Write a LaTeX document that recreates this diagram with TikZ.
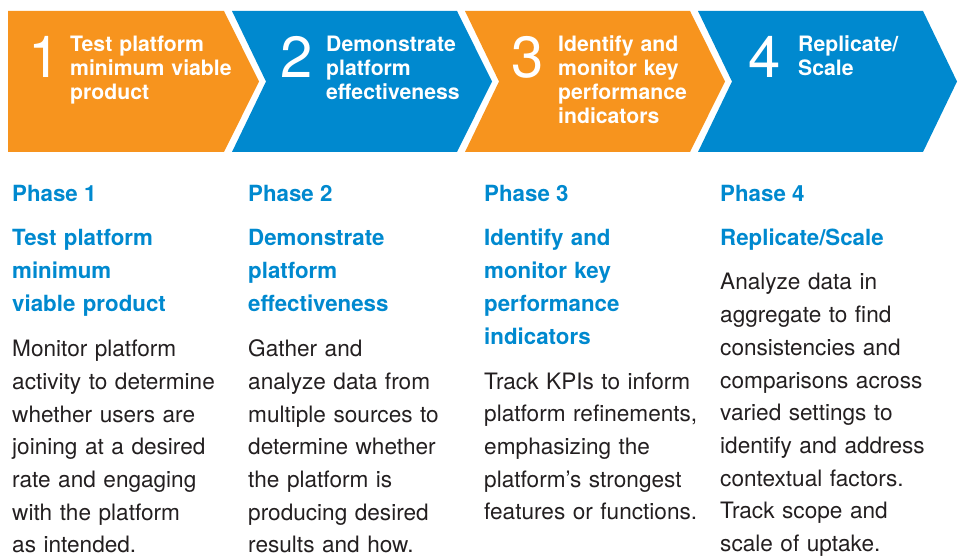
\documentclass[tikz,border=0pt]{standalone}
\usepackage{fontspec}
\setmainfont{TeX Gyre Heros}
\definecolor{phaseorange}{HTML}{F7941E}
\definecolor{phaseblue}{HTML}{0089CF}
\definecolor{bodytext}{HTML}{231F20}
\tikzset{
  chev/.style={fill=#1, draw=none},
  bignum/.style={anchor=base west, inner sep=0pt, text=white,
    font=\fontsize{58}{58}\selectfont},
  chevtitle/.style={anchor=base west, inner sep=0pt, text=white, align=left,
    text width=170pt, font=\fontsize{21.2}{24}\selectfont\bfseries},
  phaselabel/.style={anchor=base west, inner sep=0pt, text=phaseblue,
    font=\fontsize{22.3}{33}\selectfont\bfseries},
  phasehead/.style={anchor=base west, inner sep=0pt, text=phaseblue, align=left,
    text width=225pt, font=\fontsize{22.3}{33}\selectfont\bfseries},
  phasebody/.style={anchor=base west, inner sep=0pt, text=bodytext, align=left,
    text width=235pt, font=\fontsize{22.6}{32.7}\selectfont},
}
\begin{document}
\begin{tikzpicture}[x=1pt, y=-1pt]
  \useasboundingbox (0,0) rectangle (962,556);

  % chevron band
  \path[chev=phaseorange] (8,11) -- (224,11) -- (259,81.5) -- (224,152) -- (8,152) -- cycle;
  \path[chev=phaseblue] (232,11) -- (457,11) -- (492,81.5) -- (457,152) -- (232,152) -- (266,81.5) -- cycle;
  \path[chev=phaseorange] (465,11) -- (690,11) -- (725,81.5) -- (690,152) -- (465,152) -- (499,81.5) -- cycle;
  \path[chev=phaseblue] (698,11) -- (923,11) -- (957,81.5) -- (923,152) -- (698,152) -- (732,81.5) -- cycle;

  % step numbers and titles inside the chevrons
  \node[bignum] (n1) at (28,78) {1};
  \node[chevtitle] (t1) at (70,52) {Test platform\\minimum viable\\product};
  \node[bignum] (n2) at (280,78) {2};
  \node[chevtitle] (t2) at (326,52) {Demonstrate\\platform\\effectiveness};
  \node[bignum] (n3) at (511,78) {3};
  \node[chevtitle] (t3) at (558,52) {Identify and\\monitor key\\performance\\indicators};
  \node[bignum] (n4) at (748,78) {4};
  \node[chevtitle] (t4) at (798,52) {Replicate/\\Scale};

  % phase 1
  \node[phaselabel] (p1) at (12,202) {Phase 1};
  \node[phasehead] (h1) at (12,246) {Test platform\\minimum\\viable product};
  \node[phasebody] (b1) at (12,356.7) {Monitor platform\\activity to determine\\whether users are\\joining at a desired\\rate and engaging\\with the platform\\as intended.};

  % phase 2
  \node[phaselabel] (p2) at (248,202) {Phase 2};
  \node[phasehead] (h2) at (248,246) {Demonstrate\\platform\\effectiveness};
  \node[phasebody] (b2) at (248,356.7) {Gather and\\analyze data from\\multiple sources to\\determine whether\\the platform is\\producing desired\\results and how.};

  % phase 3
  \node[phaselabel] (p3) at (484,202) {Phase 3};
  \node[phasehead] (h3) at (484,246) {Identify and\\monitor key\\performance\\indicators};
  \node[phasebody] (b3) at (484,389) {Track KPIs to inform\\platform refinements,\\emphasizing the\\platform’s strongest\\features or functions.};

  % phase 4
  \node[phaselabel] (p4) at (720,202) {Phase 4};
  \node[phasehead] (h4) at (720,246) {Replicate/Scale};
  \node[phasebody] (b4) at (720,290) {Analyze data in\\aggregate to find\\consistencies and\\comparisons across\\varied settings to\\identify and address\\contextual factors.\\Track scope and\\scale of uptake.};
\end{tikzpicture}
\end{document}
